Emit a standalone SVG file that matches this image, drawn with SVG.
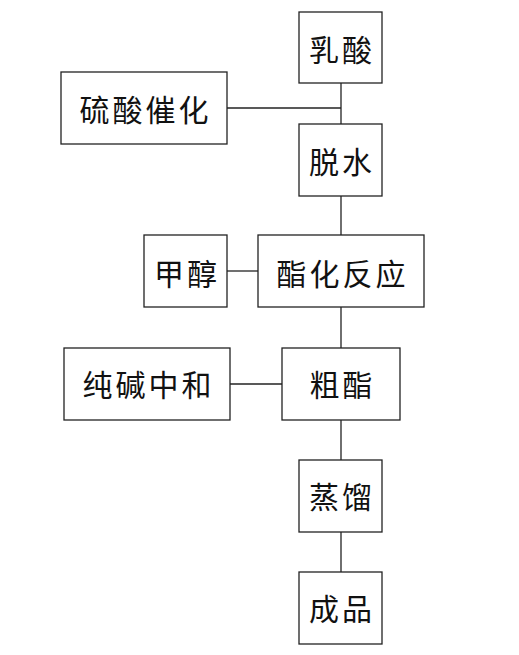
<svg xmlns="http://www.w3.org/2000/svg" width="519" height="655" viewBox="0 0 519 655">
<style>
rect{fill:#fff;stroke:#222;stroke-width:1.3}
line{stroke:#222;stroke-width:1.3}
text{font-family:"Noto Sans CJK SC","Noto Sans CJK JP",sans-serif;font-size:30px;fill:#111;text-anchor:middle;letter-spacing:3px}
</style>
<rect width="519" height="655" fill="#fff" style="stroke:none"/>
<g id="connectors">
<line x1="341" y1="83" x2="341" y2="124"/>
<line x1="227" y1="108" x2="341" y2="108"/>
<line x1="341" y1="196" x2="341" y2="235"/>
<line x1="227" y1="271" x2="258" y2="271"/>
<line x1="341" y1="307" x2="341" y2="348"/>
<line x1="230" y1="384" x2="282" y2="384"/>
<line x1="341" y1="420" x2="341" y2="460"/>
<line x1="341" y1="532" x2="341" y2="572"/>
</g>
<g id="n1"><rect x="299" y="12" width="83" height="71"/><text x="342" y="61">乳酸</text></g>
<g id="n2"><rect x="61" y="72" width="166" height="72"/><text x="145.5" y="121">硫酸催化</text></g>
<g id="n3"><rect x="299" y="124" width="83" height="72"/><text x="342" y="173">脱水</text></g>
<g id="n4"><rect x="144" y="235" width="83" height="72"/><text x="187" y="285">甲醇</text></g>
<g id="n5"><rect x="258" y="235" width="166" height="72"/><text x="342.5" y="285">酯化反应</text></g>
<g id="n6"><rect x="64" y="348" width="166" height="72"/><text x="148.5" y="396">纯碱中和</text></g>
<g id="n7"><rect x="282" y="348" width="118" height="72"/><text x="342.5" y="396">粗酯</text></g>
<g id="n8"><rect x="299" y="460" width="83" height="72"/><text x="342" y="508">蒸馏</text></g>
<g id="n9"><rect x="299" y="572" width="83" height="72"/><text x="342" y="620">成品</text></g>
</svg>
